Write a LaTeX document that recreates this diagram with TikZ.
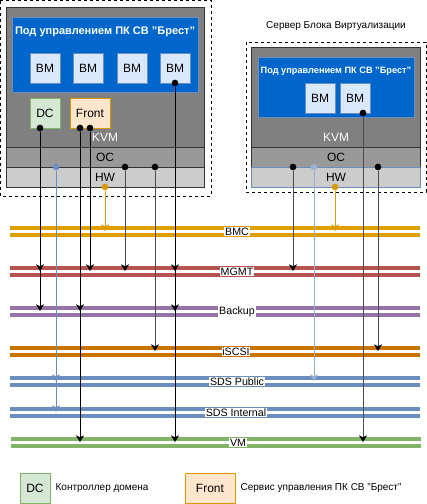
\documentclass[tikz,border=0pt]{standalone}
\usepackage{fontspec}
\setmainfont{Liberation Sans}
\usetikzlibrary{positioning,arrows.meta}

\definecolor{brestBlue}{HTML}{0066CC}
\definecolor{vmFill}{HTML}{DAE8FC}
\definecolor{vmLine}{HTML}{6C8EBF}
\definecolor{dcFill}{HTML}{D5E8D4}
\definecolor{dcLine}{HTML}{82B366}
\definecolor{frontFill}{HTML}{FFE6CC}
\definecolor{frontLine}{HTML}{D79B00}
\definecolor{kvmGray}{HTML}{808080}
\definecolor{osGray}{HTML}{999999}
\definecolor{hwGray}{HTML}{CCCCCC}
\definecolor{bmcCol}{HTML}{DDA000}
\definecolor{mgmtCol}{HTML}{B85450}
\definecolor{backupCol}{HTML}{9673A6}
\definecolor{iscsiCol}{HTML}{C87400}
\definecolor{sdsCol}{HTML}{6C8EBF}
\definecolor{vmnetCol}{HTML}{82B366}

\begin{document}
\begin{tikzpicture}[x=0.75pt, y=-0.75pt, font=\fontsize{9}{10}\selectfont,
    vmbox/.style={rectangle, draw=vmLine, fill=vmFill, minimum width=22.5pt, minimum height=22.5pt, inner sep=0pt},
    dcbox/.style={rectangle, draw=dcLine, fill=dcFill, minimum width=22.5pt, minimum height=22.5pt, inner sep=0pt},
    frontbox/.style={rectangle, draw=frontLine, fill=frontFill, minimum width=30pt, minimum height=22.5pt, inner sep=0pt},
    tap/.style={circle, fill=#1, inner sep=0pt, minimum size=5pt}, tap/.default=black,
    link/.style={draw=#1, -{Stealth[length=5pt, width=6pt, inset=1.5pt]}}, link/.default=black,
    graylink/.style={draw=black!70, -{Stealth[length=5pt, width=6pt, inset=1.5pt, black]}},
    busline/.style={draw=#1!50, line width=3.4pt, postaction={draw=#1, line width=2.4pt}},
    buslabel/.style={fill=white, inner sep=0.6pt, font=\fontsize{8}{9}\selectfont},
    servframe/.style={draw, dash pattern=on 2.25pt off 2.25pt},
    legendtext/.style={font=\fontsize{7.5}{9}\selectfont}]
        \useasboundingbox (0,0) rectangle (427,504);

        % левый сервер
        \draw[servframe] (0.5,0.5) rectangle (211,196);
        \draw[draw=black!80, fill=kvmGray] (6,7) rectangle (204,147);
        \draw[draw=black!80, fill=osGray] (6,147) rectangle (204,167);
        \draw[draw=black!80, fill=hwGray] (6,167) rectangle (204,187);
        \draw[draw=vmLine, fill=brestBlue] (12,17) rectangle (198,92);
        \node[text=white, font=\bfseries\fontsize{8.25}{9}\selectfont] (titleL) at (105,32) {Под управлением ПК СВ "Брест"};
        \node[vmbox] (vmL1) at (45,68) {ВМ};
        \node[vmbox] (vmL2) at (88,68) {ВМ};
        \node[vmbox] (vmL3) at (132,68) {ВМ};
        \node[vmbox] (vmL4) at (175,68) {ВМ};
        \node[dcbox] (dc) at (45,113) {DC};
        \node[frontbox] (front) at (90,113) {Front};
        \node[text=white] (kvmL) at (105,137) {KVM};
        \node (osL) at (105,157) {ОС};
        \node (hwL) at (105,177) {HW};

        % правый сервер
        \node[font=\fontsize{7.5}{9}\selectfont] (servR) at (336,26) {Сервер Блока Виртуализации};
        \draw[servframe] (246,42) rectangle (426,192);
        \draw[draw=black!80, fill=kvmGray] (251,47) rectangle (420,147);
        \draw[draw=black!80, fill=osGray] (251,147) rectangle (420,167);
        \draw[draw=vmLine, fill=hwGray] (251,167) rectangle (420,187);
        \draw[draw=vmLine, fill=brestBlue] (258,57) rectangle (414,117);
        \node[text=white, font=\bfseries\fontsize{6.9}{8}\selectfont] (titleR) at (336,71) {Под управлением ПК СВ "Брест"};
        \node[vmbox] (vmR1) at (320,98) {ВМ};
        \node[vmbox] (vmR2) at (355,98) {ВМ};
        \node[text=white] (kvmR) at (336,137) {KVM};
        \node (osR) at (336,157) {ОС};
        \node (hwR) at (336,177) {HW};

        % сети
        \draw[busline=bmcCol] (10,228) -- (420,228);
        \draw[busline=bmcCol] (10,235) -- (420,235);
        \draw[busline=mgmtCol] (10,268) -- (420,268);
        \draw[busline=mgmtCol] (10,275) -- (420,275);
        \draw[busline=backupCol] (10,308) -- (420,308);
        \draw[busline=backupCol] (10,315) -- (420,315);
        \draw[busline=iscsiCol] (10,348) -- (420,348);
        \draw[busline=iscsiCol] (10,355) -- (420,355);
        \draw[busline=sdsCol] (10,378) -- (420,378);
        \draw[busline=sdsCol] (10,385) -- (420,385);
        \draw[busline=sdsCol] (10,409) -- (420,409);
        \draw[busline=sdsCol] (10,416) -- (420,416);
        \draw[busline=vmnetCol] (11,439) -- (421,439);
        \draw[busline=vmnetCol] (11,446) -- (421,446);
        \node[buslabel] (bmcLbl) at (237,231.5) {BMC};
        \node[buslabel] (mgmtLbl) at (237,271.5) {MGMT};
        \node[buslabel] (backupLbl) at (237,311.5) {Backup};
        \node[buslabel] (iscsiLbl) at (236,351.5) {iSCSI};
        \node[buslabel] (sdsPubLbl) at (237,381.5) {SDS Public};
        \node[buslabel] (sdsIntLbl) at (236,412.5) {SDS Internal};
        \node[buslabel] (vmnetLbl) at (238,442.5) {VM};
        \coordinate (bmc) at (0,231);
        \coordinate (mgmt) at (0,271);
        \coordinate (backup) at (0,311);
        \coordinate (iscsi) at (0,351);
        \coordinate (sdsPub) at (0,381);
        \coordinate (sdsInt) at (0,412);
        \coordinate (vmnet) at (0,442);

        % точки подключения
        \node[tap] (dcDot) at (40,128) {};
        \node[tap] (frontDotA) at (80,128) {};
        \node[tap] (frontDotB) at (90,128) {};
        \node[tap=sdsCol] (sdsDotL) at (56,167) {};
        \node[tap=frontLine] (bmcDotL) at (105,187) {};
        \node[tap] (osDotA) at (125,167) {};
        \node[tap] (osDotB) at (155,167) {};
        \node[tap] (vmDotL) at (175,83) {};
        \node[tap] (osDotC) at (293,167) {};
        \node[tap=sdsCol!70] (sdsDotR) at (314,167) {};
        \node[tap=frontLine] (bmcDotR) at (335,187) {};
        \node[tap] (vmDotR) at (363,113) {};
        \node[tap] (osDotD) at (378,167) {};

        \draw[link] (dcDot) -- (dcDot |- mgmt);
        \draw[link] (dcDot) -- (dcDot |- backup);
        \draw[link] (frontDotA) -- (frontDotA |- backup);
        \draw[link] (frontDotA) -- (frontDotA |- vmnet);
        \draw[link] (frontDotB) -- (frontDotB |- mgmt);
        \draw[link=sdsCol] (sdsDotL) -- (sdsDotL |- sdsPub);
        \draw[link=sdsCol] (sdsDotL) -- (sdsDotL |- sdsInt);
        \draw[link=frontLine] (bmcDotL) -- (bmcDotL |- bmc);
        \draw[graylink] (osDotA) -- (osDotA |- mgmt);
        \draw[graylink] (osDotB) -- (osDotB |- iscsi);
        \draw[link] (vmDotL) -- (vmDotL |- mgmt);
        \draw[link] (vmDotL) -- (vmDotL |- backup);
        \draw[link] (vmDotL) -- (vmDotL |- vmnet);
        \draw[graylink] (osDotC) -- (osDotC |- mgmt);
        \draw[link=sdsCol!70] (sdsDotR) -- (sdsDotR |- sdsPub);
        \draw[link=frontLine] (bmcDotR) -- (bmcDotR |- bmc);
        \draw[graylink] (vmDotR) -- (vmDotR |- vmnet);
        \draw[graylink] (osDotD) -- (osDotD |- iscsi);

        % легенда
        \node[dcbox] (legDC) at (35,488) {DC};
        \node[legendtext, anchor=west] (legDCtext) [right = 0.5pt of legDC] {Контроллер домена};
        \node[frontbox, minimum width=37.5pt] (legFront) at (210,488) {Front};
        \node[legendtext, anchor=west] (legFrontText) [right = 0.5pt of legFront] {Сервис управления ПК СВ "Брест"};
      \end{tikzpicture}
\end{document}
